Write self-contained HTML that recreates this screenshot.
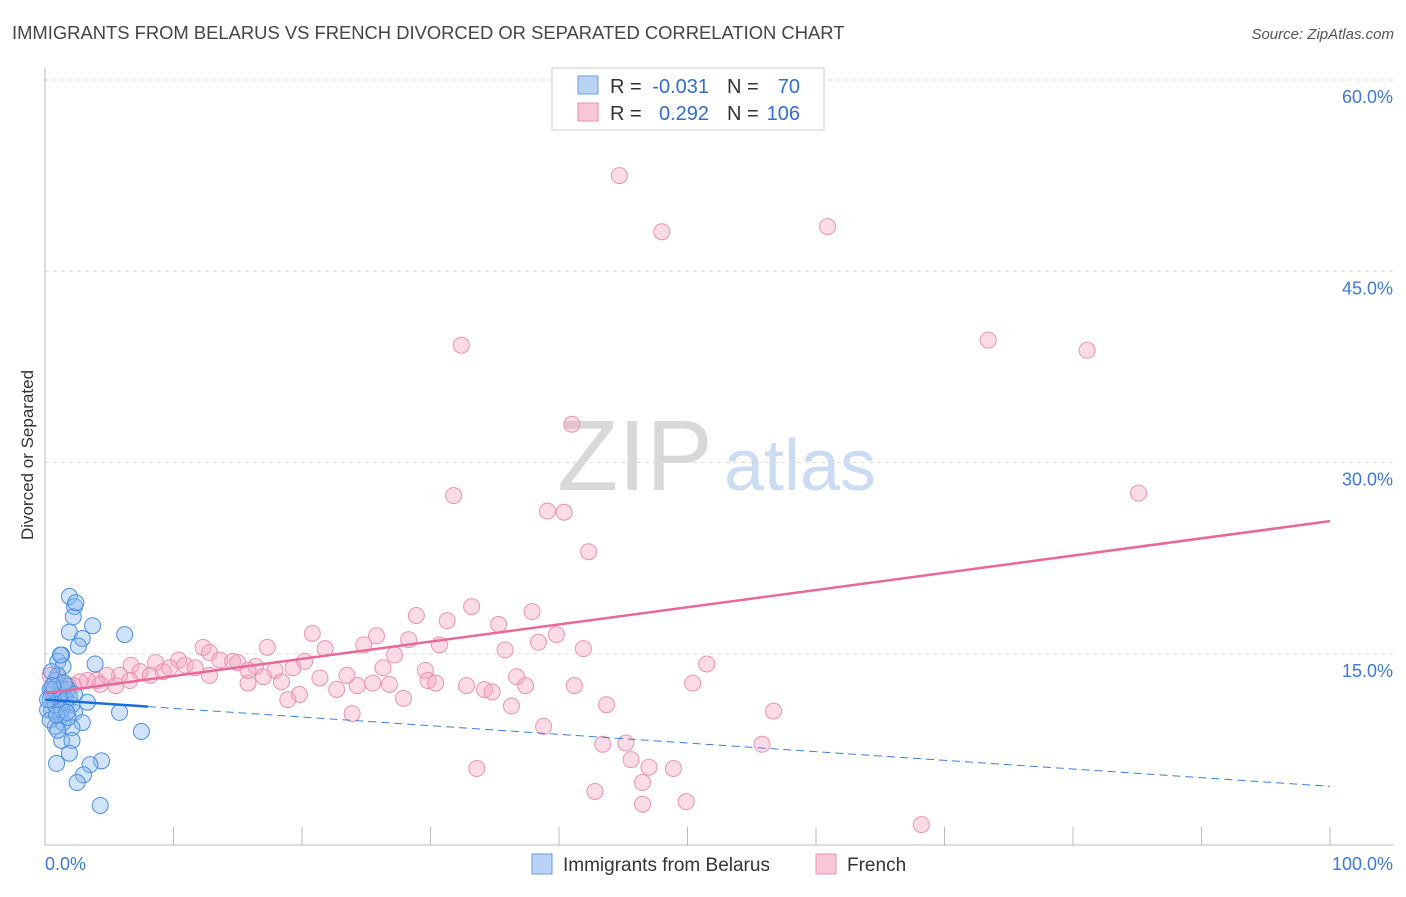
<!DOCTYPE html>
<html><head><meta charset="utf-8">
<style>
body{margin:0;background:#fff;font-family:"Liberation Sans",sans-serif;}
svg text{font-family:"Liberation Sans",sans-serif;}
</style></head>
<body>
<svg id="chart" width="1406" height="892" xmlns="http://www.w3.org/2000/svg">
<text x="12" y="39" font-size="18.4" fill="#444">IMMIGRANTS FROM BELARUS VS FRENCH DIVORCED OR SEPARATED CORRELATION CHART</text>
<text x="1394" y="39" font-size="15" fill="#555" text-anchor="end" font-style="italic">Source: ZipAtlas.com</text>
<text transform="translate(33,455) rotate(-90)" font-size="17" fill="#333" text-anchor="middle">Divorced or Separated</text>
<g>
<text x="635" y="490" font-size="100" fill="#d8d8d8" font-family="Liberation Serif" text-anchor="middle">ZIP</text>
<text x="800" y="490" font-size="72" fill="#c9dcf2" text-anchor="middle">atlas</text>
</g>
<g id="grid"></g><g id="axes"></g><g id="pts"></g><g id="lines"></g>
<g>
<rect x="552" y="68" width="272" height="62" fill="#fff" stroke="#ccc"/>
<rect x="578" y="76" width="20" height="18" fill="#b9d3f5" stroke="#6a9ee0"/>
<text x="610" y="93" font-size="20" fill="#333">R = </text><text x="709" y="93" font-size="20" fill="#2f6fcf" text-anchor="end">-0.031</text>
<text x="727" y="93" font-size="20" fill="#333">N = </text><text x="800" y="93" font-size="20" fill="#2f6fcf" text-anchor="end">70</text>
<rect x="578" y="103" width="20" height="18" fill="#f8c8d7" stroke="#e890ad"/>
<text x="610" y="120" font-size="20" fill="#333">R = </text><text x="709" y="120" font-size="20" fill="#2f6fcf" text-anchor="end">0.292</text>
<text x="727" y="120" font-size="20" fill="#333">N = </text><text x="800" y="120" font-size="20" fill="#2f6fcf" text-anchor="end">106</text>
</g>
<g>
<rect x="532" y="854" width="20" height="20" fill="#b9d3f5" stroke="#6a9ee0"/>
<text x="563" y="871" font-size="19" fill="#333">Immigrants from Belarus</text>
<rect x="816" y="854" width="20" height="20" fill="#f8c8d7" stroke="#e890ad"/>
<text x="847" y="871" font-size="19" fill="#333">French</text>
</g>
</svg>
<script>
const yTicks=[15,30,45,60];
const yTickLabels=["15.0%","30.0%","45.0%","60.0%"];
const xTickLabels=["0.0%","100.0%"];
const blueX=[1.9,2.3,2.2,2.4,1.9,2.9,3.7,6.2,2.6,1.3,1.0,3.9,1.4,0.8,1.2,0.5,1.8,1.6,1.0,1.9,0.5,2.3,3.3,1.2,2.9,2.1,0.8,1.4,5.8,7.5,1.3,2.1,1.9,0.9,4.4,3.5,3.0,2.5,4.3,0.4,0.4,0.2,0.8,1.2,1.6,1.0,0.4,1.6,2.1,0.7,1.3,1.8,1.0,0.5,1.5,0.9,0.2,0.6,1.7,2.3,1.2];
const blueY=[19.5,18.7,17.9,19.0,16.7,16.2,17.2,16.5,15.6,14.9,14.4,14.2,14.0,12.9,12.3,11.8,12.2,11.0,11.4,11.6,10.6,10.4,11.2,10.2,9.6,9.2,9.3,9.6,10.4,8.9,8.2,8.2,7.2,6.4,6.6,6.3,5.5,4.9,3.1,12.2,11.4,10.6,11.0,11.8,12.5,13.3,9.8,11.4,11.0,12.2,10.6,10.0,9.0,13.6,12.7,10.2,11.4,12.5,10.4,11.8,14.9];
const pinkX=[44.7,48.0,60.9,32.4,73.4,81.1,41.0,31.8,39.1,40.4,85.1,42.3,33.2,28.9,37.9,35.3,31.3,25.8,20.8,28.3,30.7,24.8,21.8,35.8,38.4,39.8,41.9,12.3,17.3,12.8,8.6,10.4,10.9,13.6,14.6,15.0,16.4,17.9,19.3,20.2,6.7,7.4,5.8,4.8,4.0,3.3,2.7,2.2,1.8,1.0,0.4,0.5,1.2,1.6,27.2,26.3,23.5,22.7,24.3,25.5,26.8,29.6,29.8,30.4,36.7,37.4,32.8,34.2,34.8,41.2,43.7,50.4,51.5,36.3,23.9,38.8,56.7,43.4,45.2,55.8,45.6,47.0,48.9,33.6,46.5,42.8,46.5,49.9,68.2,19.8,18.9,15.8,17.0,21.4,12.8,11.7,9.2,8.2,5.5,4.3,6.6,9.7,15.8,18.4,27.9];
const pinkY=[52.5,48.1,48.5,39.2,39.6,38.8,33.0,27.4,26.2,26.1,27.6,23.0,18.7,18.0,18.3,17.3,17.6,16.4,16.6,16.1,15.7,15.7,15.4,15.3,15.9,16.5,15.4,15.5,15.5,15.1,14.3,14.5,14.1,14.5,14.4,14.3,14.0,13.7,13.9,14.4,14.1,13.6,13.3,13.3,12.9,12.9,12.8,12.5,12.5,13.1,13.3,12.2,12.2,11.9,14.9,13.9,13.3,12.2,12.5,12.7,12.6,13.7,12.9,12.7,13.2,12.5,12.5,12.2,12.0,12.5,11.0,12.7,14.2,10.9,10.3,9.3,10.5,7.9,8.0,7.9,6.7,6.1,6.0,6.0,4.9,4.2,3.2,3.4,1.6,11.8,11.4,12.7,13.2,13.1,13.3,13.9,13.6,13.3,12.5,12.6,12.9,13.9,13.7,12.8,11.5];
const blueTrend=[11.4,4.6];
const pinkTrend=[11.9,25.4];
const blueSolidEnd=8;

const NS="http://www.w3.org/2000/svg";
const X=v=>45+v*12.85, Y=v=>845-v*12.75;
function mk(tag,attrs,parent){const e=document.createElementNS(NS,tag);for(const k in attrs)e.setAttribute(k,attrs[k]);document.getElementById(parent).appendChild(e);return e;}
yTicks.forEach((t,i)=>{
 const g=mk('line',{x1:45,x2:1394,y1:Y(t),y2:Y(t),stroke:'#ddd','stroke-dasharray':'4,4'},'grid');
 
 
 const tx=mk('text',{x:1393,y:Y(t)+23,'font-size':18,fill:'#3b78d8','text-anchor':'end'},'axes');
 tx.textContent=yTickLabels[i];
 
 
});
const ax=mk('line',{x1:45,x2:45,y1:68,y2:845,stroke:'#bbb'},'axes');


const bx=mk('line',{x1:45,x2:1394,y1:845,y2:845,stroke:'#bbb'},'axes');


for(let i=0;i<=10;i++){const t=mk('line',{x1:X(i*10),x2:X(i*10),y1:827,y2:845,stroke:'#bbb'},'axes');
 
 }
[[0,'start',45],[100,'end',1393]].forEach((d,i)=>{const t=mk('text',{x:d[2],y:870,'font-size':18,fill:'#3b78d8','text-anchor':d[1]},'axes');t.textContent=xTickLabels[i];
 
 });
pinkX.forEach((x,i)=>{const c=mk('circle',{cx:X(x),cy:Y(pinkY[i]),r:8,fill:'rgba(244,165,192,0.4)',stroke:'#ec93b2','stroke-width':1},'pts');
 
 });
blueX.forEach((x,i)=>{const c=mk('circle',{cx:X(x),cy:Y(blueY[i]),r:8,fill:'rgba(140,185,240,0.4)',stroke:'#4a8ee0','stroke-width':1},'pts');
 
 });
const bt=x=>blueTrend[0]+(blueTrend[1]-blueTrend[0])*x/100;
const pt=x=>pinkTrend[0]+(pinkTrend[1]-pinkTrend[0])*x/100;
const l1=mk('line',{x1:X(blueSolidEnd),y1:Y(bt(blueSolidEnd)),x2:X(100),y2:Y(bt(100)),stroke:'#3a7ede','stroke-width':1,'stroke-dasharray':'8,5'},'lines');


const l2=mk('line',{x1:X(0),y1:Y(bt(0)),x2:X(blueSolidEnd),y2:Y(bt(blueSolidEnd)),stroke:'#1a6ed8','stroke-width':2.5},'lines');


const l3=mk('line',{x1:X(0),y1:Y(pt(0)),x2:X(100),y2:Y(pt(100)),stroke:'#e8689a','stroke-width':2.5},'lines');


</script>
</body></html>
